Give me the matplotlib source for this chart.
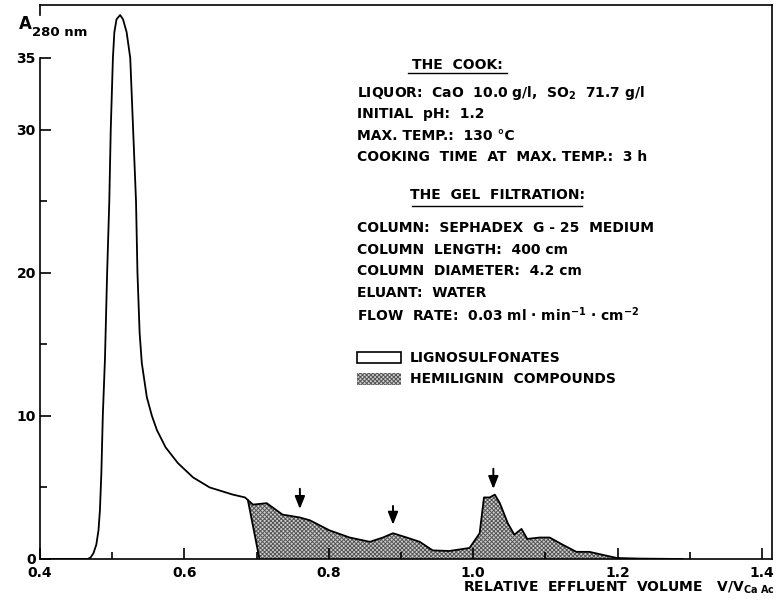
import matplotlib
matplotlib.use('Agg')
import matplotlib.pyplot as plt
from matplotlib.patches import Rectangle
import numpy as np

plt.rcParams['font.family'] = 'DejaVu Sans'
plt.rcParams['font.weight'] = 'bold'
plt.rcParams['mathtext.fontset'] = 'custom'
plt.rcParams['mathtext.rm'] = 'DejaVu Sans:bold'
plt.rcParams['mathtext.default'] = 'rm'
plt.rcParams['hatch.linewidth'] = 0.7

# total absorbance curve
vol = [0.400, 0.466, 0.470, 0.474, 0.478, 0.481, 0.483, 0.485, 0.487, 0.490, 0.493, 0.496,
       0.498, 0.501, 0.503, 0.506, 0.511, 0.515, 0.520, 0.525, 0.529, 0.533, 0.535,
       0.538, 0.541, 0.548, 0.555, 0.562, 0.574, 0.591, 0.612, 0.635, 0.667, 0.684,
       0.695, 0.714, 0.736, 0.760, 0.774, 0.801, 0.829, 0.857, 0.875, 0.889, 0.908,
       0.926, 0.944, 0.967, 0.995, 1.009, 1.015, 1.023, 1.030, 1.037, 1.048, 1.057,
       1.067, 1.075, 1.092, 1.106, 1.124, 1.143, 1.161, 1.199, 1.230, 1.290]
a280 = [0.0, 0.0, 0.1, 0.4, 1.0, 2.0, 3.4, 6.0, 10.0, 14.0, 20.0, 25.0,
        30.0, 35.0, 36.8, 37.7, 38.0, 37.7, 36.8, 35.0, 30.0, 25.0, 20.0,
        15.8, 13.7, 11.3, 10.0, 9.0, 7.8, 6.7, 5.7, 5.0, 4.5, 4.3,
        3.8, 3.9, 3.1, 2.9, 2.7, 2.0, 1.5, 1.2, 1.5, 1.8, 1.5,
        1.2, 0.6, 0.56, 0.77, 1.8, 4.3, 4.3, 4.5, 3.9, 2.5, 1.7,
        2.1, 1.4, 1.5, 1.5, 1.0, 0.5, 0.5, 0.07, 0.03, 0.0]

# hemilignin area: left edge runs from the curve down to the baseline
hemi_top = (0.688, 4.1)
hemi_foot = 0.704
hemi_end = 1.199

arrow_x = [0.760, 0.889, 1.028]
arrow_tip = [3.3, 2.2, 4.7]
arrow_tail = [5.1, 3.9, 6.5]

cook_lines = ['LIQUOR:  CaO  10.0 g/l,  SO$_2$  71.7 g/l',
              'INITIAL  pH:  1.2',
              'MAX. TEMP.:  130 °C',
              'COOKING  TIME  AT  MAX. TEMP.:  3 h']
gel_lines = ['COLUMN:  SEPHADEX  G - 25  MEDIUM',
             'COLUMN  LENGTH:  400 cm',
             'COLUMN  DIAMETER:  4.2 cm',
             'ELUANT:  WATER',
             'FLOW  RATE:  0.03 ml · min$^{-1}$ · cm$^{-2}$']
legend_labels = ['LIGNOSULFONATES', 'HEMILIGNIN  COMPOUNDS']

shade = dict(facecolor='#cfcfcf', edgecolor='#555555', hatch='xxxxxxxx')

fig = plt.figure(figsize=(7.77, 6.01), dpi=100)
ax = fig.add_axes([40/777, 42/601, 732/777, 554/601])

vol = np.array(vol)
a280 = np.array(a280)
m = (vol > hemi_top[0]) & (vol <= hemi_end)
px = np.concatenate([[hemi_foot, hemi_top[0]], vol[m], [hemi_end]])
py = np.concatenate([[0, hemi_top[1]], a280[m], [0]])
ax.fill(px, py, lw=0, **shade)
ax.plot([hemi_foot, hemi_top[0]], [0, hemi_top[1]], color='k', lw=1.3)
ax.plot(vol, a280, color='k', lw=1.3)

for x, t, s in zip(arrow_x, arrow_tip, arrow_tail):
    ax.annotate('', xy=(x, t), xytext=(x, s),
                arrowprops=dict(arrowstyle='-|>,head_width=0.3,head_length=0.75',
                                color='k', lw=1.4))

ax.set_xlim(0.4, 1.414)
ax.set_ylim(0, 38.7)
ax.set_xticks([0.4, 0.6, 0.8, 1.0, 1.2, 1.4])
ax.set_xticklabels(['0.4', '0.6', '0.8', '1.0', '1.2', '1.4'])
ax.set_xticks([0.5, 0.7, 0.9, 1.1, 1.3], minor=True)
ax.set_yticks([0, 10, 20, 30, 35])
ax.set_yticks([5, 15, 25], minor=True)
ax.tick_params(direction='in', length=8, width=1.2, labelsize=10)
ax.tick_params(axis='x', pad=5)
ax.tick_params(axis='y', pad=3)
ax.tick_params(which='minor', direction='in', length=5, width=1.2)
for sp in ax.spines.values():
    sp.set_linewidth(1.2)
ax.spines['left'].set_bounds(0, 35)
ax.plot([0.4, 0.4], [38.0, 38.7], color='k', lw=1.2, clip_on=False)

fig.text(19/777, (601-24)/601, 'A', fontsize=12, va='center')
fig.text(32/777, (601-33)/601, '280 nm', fontsize=9.5, va='center')
fig.text(0.997, 0.022, r'RELATIVE  EFFLUENT  VOLUME   V/V$_{Ca\ Ac}$',
         ha='right', va='center', fontsize=10)

tx = lambda p: (p - 40) / 732
ty = lambda p: (559 - p) / 554
ax.text(tx(457), ty(65), 'THE  COOK:', transform=ax.transAxes, ha='center', va='center', fontsize=10)
ax.plot([tx(408), tx(507)], [ty(73), ty(73)], transform=ax.transAxes, color='k', lw=1)
for i, s in enumerate(cook_lines):
    ax.text(tx(357), ty(93 + 21.3 * i), s, transform=ax.transAxes, va='center', fontsize=10)
ax.text(tx(497), ty(195), 'THE  GEL  FILTRATION:', transform=ax.transAxes, ha='center', va='center', fontsize=10)
ax.plot([tx(412), tx(582)], [ty(206), ty(206)], transform=ax.transAxes, color='k', lw=1)
for i, s in enumerate(gel_lines):
    ax.text(tx(357), ty(228 + 21.7 * i), s, transform=ax.transAxes, va='center', fontsize=10)

ax.add_patch(Rectangle((tx(357), ty(363)), 44/732, 11/554, transform=ax.transAxes,
                       facecolor='white', edgecolor='k', lw=1.2))
ax.add_patch(Rectangle((tx(357), ty(385)), 44/732, 12/554, transform=ax.transAxes,
                       lw=0, **shade))
ax.text(tx(410), ty(358), legend_labels[0], transform=ax.transAxes, va='center', fontsize=10)
ax.text(tx(410), ty(379), legend_labels[1], transform=ax.transAxes, va='center', fontsize=10)

fig.savefig('out.png', dpi=100)
